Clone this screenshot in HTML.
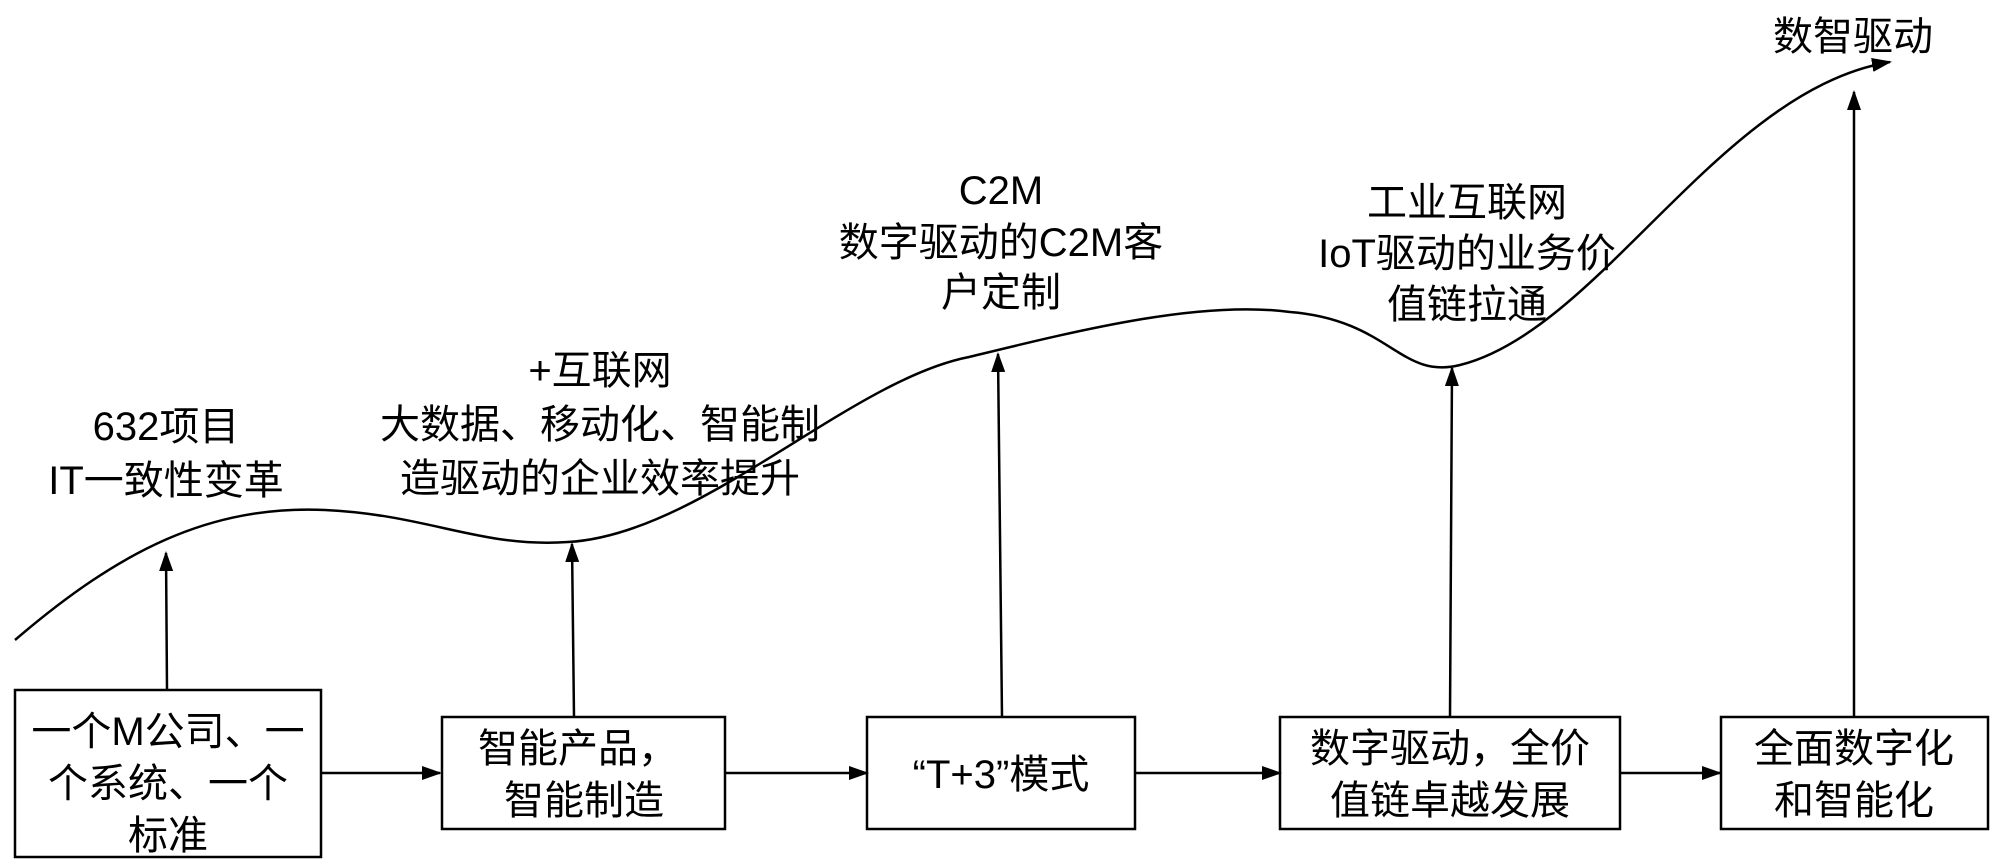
<!DOCTYPE html>
<html><head><meta charset="utf-8"><style>
html,body{margin:0;padding:0;background:#fff;}
svg{display:block;}
text{font-family:"Liberation Sans","Noto Sans CJK SC",sans-serif;font-size:40px;fill:#000;text-anchor:middle;}
</style></head><body>
<svg width="2000" height="867" viewBox="0 0 2000 867" xmlns="http://www.w3.org/2000/svg">
<defs><marker id="a" markerWidth="10" markerHeight="10" refX="9" refY="5" orient="auto" markerUnits="userSpaceOnUse" viewBox="0 0 10 10"><path d="M0,0 L10,5 L0,10 z" fill="#000"/></marker>
<marker id="b" markerWidth="20" markerHeight="20" refX="18" refY="10" orient="auto" markerUnits="userSpaceOnUse"><path d="M0,3 L20,10 L0,17 z" fill="#000"/></marker></defs>
<g fill="none" stroke="#000" stroke-width="2.5">
<path d="M15,640 C120,550 210,505 325,510 C430,515 480,548 568,542 C700,535 850,380 969,357 C1080,330 1200,300 1290,312 C1390,320 1400,380 1460,365 C1600,330 1720,90 1890,62" marker-end="url(#b)"/>
<line x1="167" y1="689" x2="166" y2="553" marker-end="url(#b)"/>
<line x1="574" y1="717" x2="572" y2="544" marker-end="url(#b)"/>
<line x1="1002" y1="717" x2="998" y2="354" marker-end="url(#b)"/>
<line x1="1450" y1="717" x2="1452" y2="368" marker-end="url(#b)"/>
<line x1="1854" y1="717" x2="1854" y2="92" marker-end="url(#b)"/>
<line x1="321" y1="773" x2="440" y2="773" marker-end="url(#b)"/>
<line x1="725" y1="773" x2="867" y2="773" marker-end="url(#b)"/>
<line x1="1135" y1="773" x2="1280" y2="773" marker-end="url(#b)"/>
<line x1="1620" y1="773" x2="1720" y2="773" marker-end="url(#b)"/>
<rect x="15" y="690" width="306" height="167"/>
<rect x="442" y="717" width="283" height="112"/>
<rect x="867" y="717" width="268" height="112"/>
<rect x="1280" y="717" width="340" height="112"/>
<rect x="1721" y="717" width="267" height="112"/>
</g>
<text x="1853" y="50">数智驱动</text>
<text x="166" y="440">632项目</text>
<text x="166" y="494">IT一致性变革</text>
<text x="600" y="384">+互联网</text>
<text x="600" y="438">大数据、移动化、智能制</text>
<text x="600" y="492">造驱动的企业效率提升</text>
<text x="1001" y="204">C2M</text>
<text x="1001" y="256">数字驱动的C2M客</text>
<text x="1001" y="306">户定制</text>
<text x="1467" y="216">工业互联网</text>
<text x="1467" y="267">IoT驱动的业务价</text>
<text x="1467" y="318">值链拉通</text>
<text x="168" y="745">一个M公司、一</text>
<text x="168" y="797">个系统、一个</text>
<text x="168" y="849">标准</text>
<text x="578" y="762">智能产品，</text>
<text x="584" y="814">智能制造</text>
<text x="1001" y="788">“T+3”模式</text>
<text x="1450" y="762">数字驱动，全价</text>
<text x="1450" y="814">值链卓越发展</text>
<text x="1854" y="762">全面数字化</text>
<text x="1854" y="814">和智能化</text>
</svg>
</body></html>
